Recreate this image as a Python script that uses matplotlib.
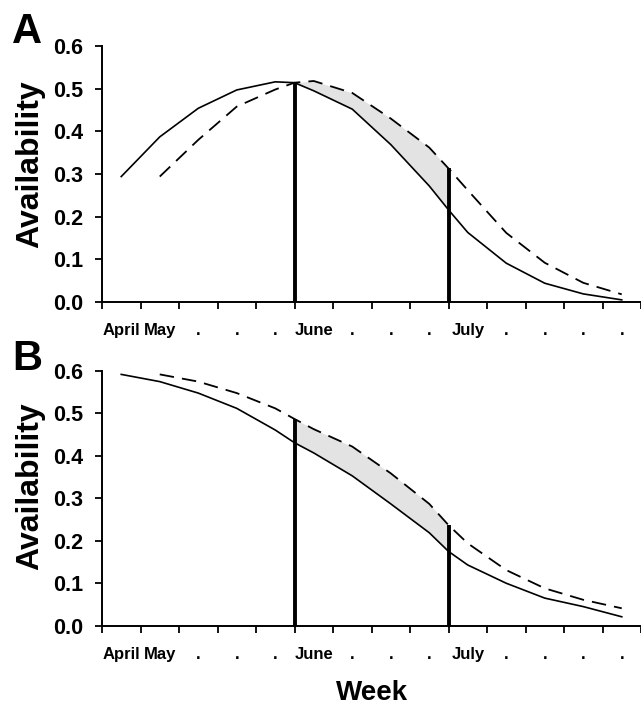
import numpy as np
import matplotlib
matplotlib.use('Agg')
import matplotlib.pyplot as plt

plt.rcParams['font.family'] = ['Liberation Sans', 'DejaVu Sans']
plt.rcParams['font.weight'] = 'bold'

# week positions of the read-off points (data sit mid-week, plus the June/July marks)
weeks = np.array([0.5, 1.5, 2.5, 3.5, 4.5, 5, 5.5, 6.5, 7.5, 8.5, 9, 9.5, 10.5, 11.5, 12.5, 13.5])

# panel A
a_solid = np.array([0.294, 0.387, 0.454, 0.497, 0.516, 0.514, 0.495, 0.452, 0.369, 0.272,
                    0.216, 0.163, 0.091, 0.044, 0.019, 0.005])
a_dashed = np.array([np.nan, 0.294, 0.380, 0.458, 0.498, 0.514, 0.518, 0.490, 0.430, 0.362,
                     0.313, 0.262, 0.162, 0.092, 0.045, 0.018])

# panel B
b_solid = np.array([0.592, 0.575, 0.548, 0.512, 0.461, 0.431, 0.407, 0.353, 0.287, 0.219,
                    0.175, 0.143, 0.100, 0.065, 0.045, 0.021])
b_dashed = np.array([np.nan, 0.592, 0.575, 0.548, 0.512, 0.487, 0.463, 0.422, 0.359, 0.287,
                     0.237, 0.194, 0.131, 0.088, 0.061, 0.041])

june, july = 5, 9
week_ticks = np.arange(0, 15)
label_pos = np.arange(0.5, 14, 1.0)
week_labels = ['April', 'May', '.', '.', '.', 'June', '.', '.', '.', 'July', '.', '.', '.', '.']
yticks = [0.0, 0.1, 0.2, 0.3, 0.4, 0.5, 0.6]

fig = plt.figure(figsize=(6.41, 7.07), dpi=100)
W, H = 641, 707
axA = fig.add_axes([102 / W, 1 - 302 / H, 1 - 102 / W, 256 / H])
axB = fig.add_axes([102 / W, 1 - 625.7 / H, 1 - 102 / W, 254.7 / H])


def draw(ax, solid, dashed):
    band = (weeks >= june) & (weeks <= july)
    ax.fill_between(weeks, solid, dashed, where=band, color='#e3e3e3', lw=0, zorder=1)
    ax.plot(weeks, solid, color='black', lw=1.2, zorder=3)
    ax.plot(weeks, dashed, color='black', lw=1.3, ls=(0, (8, 4.5)), zorder=3)
    top_june = dashed[weeks == june][0]
    top_july = dashed[weeks == july][0]
    ax.vlines([june, july], 0, [top_june, top_july], color='black', lw=2.8, zorder=4)

    ax.set_xlim(0, 14)
    ax.set_ylim(0, 0.6)
    for s in ['top', 'right']:
        ax.spines[s].set_visible(False)
    for s in ['left', 'bottom']:
        ax.spines[s].set_linewidth(1.4)
    ax.set_yticks(yticks)
    ax.set_yticklabels(['%.1f' % v for v in yticks], fontsize=15.5, fontweight='bold')
    ax.set_xticks(week_ticks)
    ax.set_xticklabels([])
    ax.set_xticks(label_pos, minor=True)
    ax.set_xticklabels(week_labels, minor=True, fontsize=12, fontweight='bold')
    ax.tick_params(which='major', length=5, width=1.3, pad=8.5)
    ax.tick_params(which='minor', axis='x', length=0, pad=15)
    ax.spines['bottom'].set_clip_on(False)


draw(axA, a_solid, a_dashed)
draw(axB, b_solid, b_dashed)

fig.text(12 / W, 1 - 43 / H, 'A', fontsize=30, fontweight='bold', ha='left', va='baseline')
fig.text(12 / W, 1 - 370 / H, 'B', fontsize=30, fontweight='bold', ha='left', va='baseline')
fig.text(30 / W, 1 - 164 / H, 'Availability', fontsize=23, fontweight='bold',
         rotation=90, ha='center', va='center')
fig.text(30 / W, 1 - 486 / H, 'Availability', fontsize=23, fontweight='bold',
         rotation=90, ha='center', va='center')
fig.text(372 / W, 1 - 693 / H, 'Week', fontsize=20, fontweight='bold', ha='center', va='center')

fig.savefig('out.png', dpi=100)
